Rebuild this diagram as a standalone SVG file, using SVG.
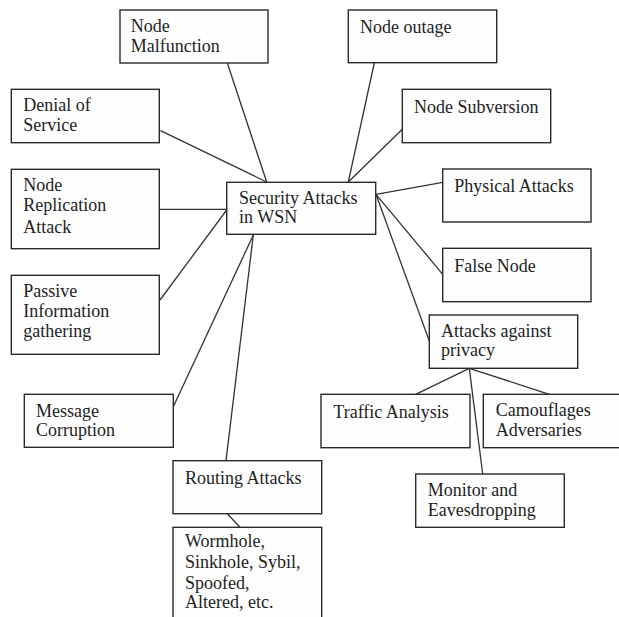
<svg xmlns="http://www.w3.org/2000/svg" width="619" height="617" viewBox="0 0 619 617">
<style>
.box{fill:#fdfdfd;stroke:#2a2a2a;stroke-width:1.4}
.t{font-family:"Liberation Serif","Times New Roman",serif;font-size:18px;fill:#1e1e1e}
.c line{stroke:#333;stroke-width:1.3}
</style>
<rect width="619" height="617" fill="#fff"/>
<g class="c" id="connectors">
<line x1="227.3" y1="63" x2="266.7" y2="182"/>
<line x1="160.5" y1="130.7" x2="266.7" y2="182"/>
<line x1="160" y1="209.3" x2="226.7" y2="209.3"/>
<line x1="160" y1="300" x2="226.7" y2="210"/>
<line x1="173.3" y1="406.7" x2="253.3" y2="235"/>
<line x1="253.3" y1="235" x2="226" y2="460.7"/>
<line x1="227.3" y1="513.7" x2="240" y2="527.3"/>
<line x1="374.3" y1="63" x2="348.3" y2="182"/>
<line x1="402.3" y1="129.3" x2="348.3" y2="182"/>
<line x1="442.7" y1="182.3" x2="376" y2="194.3"/>
<line x1="376" y1="194.3" x2="442.7" y2="274.3"/>
<line x1="376" y1="194.3" x2="429.3" y2="341"/>
<line x1="469.3" y1="368.3" x2="415.7" y2="394.3"/>
<line x1="469.3" y1="368.3" x2="549.3" y2="394.3"/>
<line x1="469.3" y1="368.3" x2="482.7" y2="474"/>
</g>
<g id="center"><rect class="box" x="226.7" y="182.3" width="149" height="52"/><text class="t" x="239" y="204.3">Security Attacks</text><text class="t" x="239" y="223.3">in WSN</text></g>
<g id="malfunction"><rect class="box" x="120" y="10" width="148" height="53"/><text class="t" x="130.7" y="32.3">Node</text><text class="t" x="130.7" y="51.7">Malfunction</text></g>
<g id="denial"><rect class="box" x="11.3" y="89.3" width="148" height="53.4"/><text class="t" x="23.3" y="111">Denial of</text><text class="t" x="23.3" y="130.7">Service</text></g>
<g id="replication"><rect class="box" x="11.3" y="169.3" width="148" height="79.4"/><text class="t" x="23.3" y="191">Node</text><text class="t" x="23.3" y="210.7">Replication</text><text class="t" x="23.3" y="233.3">Attack</text></g>
<g id="passive"><rect class="box" x="11.3" y="275.3" width="148" height="79"/><text class="t" x="23.3" y="296.7">Passive</text><text class="t" x="23.3" y="316.7">Information</text><text class="t" x="23.3" y="336.7">gathering</text></g>
<g id="message"><rect class="box" x="24.3" y="394.3" width="149" height="53"/><text class="t" x="36" y="416.7">Message</text><text class="t" x="36" y="436">Corruption</text></g>
<g id="routing"><rect class="box" x="173" y="460.7" width="148.7" height="53"/><text class="t" x="185" y="484.3">Routing Attacks</text></g>
<g id="wormhole"><rect class="box" x="173" y="527.3" width="148.7" height="100"/><text class="t" x="185" y="547.3">Wormhole,</text><text class="t" x="185" y="568.3">Sinkhole, Sybil,</text><text class="t" x="185" y="589">Spoofed,</text><text class="t" x="185" y="608.3">Altered, etc.</text></g>
<g id="outage"><rect class="box" x="348.3" y="10" width="148.4" height="52.7"/><text class="t" x="360" y="33.3">Node outage</text></g>
<g id="subversion"><rect class="box" x="402.3" y="89.3" width="148.4" height="53.4"/><text class="t" x="414" y="113.3">Node Subversion</text></g>
<g id="physical"><rect class="box" x="442.7" y="169" width="148.3" height="53"/><text class="t" x="454.3" y="192.3">Physical Attacks</text></g>
<g id="falsenode"><rect class="box" x="442.7" y="248.3" width="148.3" height="53.4"/><text class="t" x="454.3" y="271.7">False Node</text></g>
<g id="privacy"><rect class="box" x="429.3" y="315" width="148.4" height="53.3"/><text class="t" x="441" y="336.7">Attacks against</text><text class="t" x="441" y="356">privacy</text></g>
<g id="traffic"><rect class="box" x="321" y="394.3" width="149" height="53.4"/><text class="t" x="333.3" y="418.3">Traffic Analysis</text></g>
<g id="camouflages"><rect class="box" x="483.3" y="394.3" width="148" height="53.4"/><text class="t" x="495.7" y="416">Camouflages</text><text class="t" x="495.7" y="435.7">Adversaries</text></g>
<g id="monitor"><rect class="box" x="415.7" y="474" width="148.6" height="53.3"/><text class="t" x="427.7" y="496">Monitor and</text><text class="t" x="427.7" y="515.7">Eavesdropping</text></g>
</svg>
